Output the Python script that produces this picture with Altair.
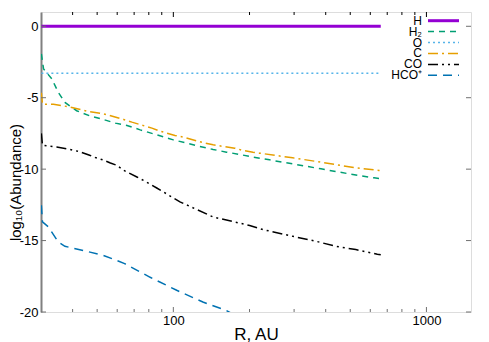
import altair as alt
import pandas as pd

names = ["H", "H2", "O", "C", "CO", "HCO+"]
labels = ["H", "H₂", "O", "C", "CO", "HCO⁺"]
colors = ["#9400d3", "#009e73", "#56b4e9", "#e69f00", "#000000", "#0072b2"]
dashes = [[1, 0], [6, 5], [2, 3], [10, 4, 2, 4], [10, 4, 2, 4, 2, 4], [9, 6]]

H_R = [30.1, 660]
H_v = [0.0, 0.0]

O_R = [30.1, 660]
O_v = [-3.28, -3.28]

H2_R = [30.1, 30.7, 33.1, 35.1, 37.3, 41.5, 46.6, 51.5, 59.0, 65.6, 74.0, 83.4, 94.2, 100,
        112.9, 127.3, 143.6, 162.2, 182.9, 206.3, 240.0, 296.2, 383.1, 495.0, 620.8, 660]
H2_v = [-1.93, -2.98, -3.68, -4.62, -5.33, -5.91, -6.26, -6.46, -6.78, -6.94, -7.25, -7.53, -7.81, -7.95,
        -8.18, -8.41, -8.62, -8.81, -8.97, -9.16, -9.35, -9.63, -9.98, -10.33, -10.61, -10.68]

C_R = [30.1, 30.4, 33.6, 39.0, 46.7, 53.1, 63.6, 68.6, 82.3, 88.6, 101.5, 109.5, 133.3, 143.6,
       174.8, 188.5, 206.3, 219.2, 296.2, 383.1, 445.3, 526.0, 649.5, 660]
C_v = [-4.65, -5.45, -5.45, -5.65, -5.98, -6.13, -6.52, -6.71, -7.13, -7.34, -7.64, -7.76, -8.18, -8.30,
       -8.53, -8.69, -8.81, -8.88, -9.21, -9.51, -9.70, -9.91, -10.09, -10.10]

CO_R = [30.1, 30.4, 34.6, 39.0, 42.7, 46.7, 49.2, 52.8, 56.4, 59.6, 63.6, 71.8, 77.4, 86.0,
        106.2, 143.6, 200.2, 225.9, 296.2, 366.2, 438.8, 526.0, 639.6, 660]
CO_v = [-7.5, -8.33, -8.45, -8.62, -8.78, -9.03, -9.19, -9.36, -9.57, -9.72, -10.08, -10.55, -10.85, -11.32,
        -12.29, -13.35, -13.94, -14.23, -14.70, -15.05, -15.40, -15.63, -15.96, -16.0]

HCO_R = [30.1, 30.4, 32.1, 35.1, 37.3, 45.4, 52.8, 59.5, 64.2, 81.0, 103.1, 130.8, 162.2, 200.0]
HCO_v = [-12.53, -13.69, -14.05, -15.1, -15.4, -15.75, -16.03, -16.38, -16.61, -17.57, -18.48, -19.3, -19.9, -20.8]

y_ticks = [-20, -15, -10, -5, 0]
x_major = [100, 1000]
x_minor = [40, 50, 60, 70, 80, 90, 200, 300, 400, 500, 600, 700, 800, 900]

series = {"H": (H_R, H_v), "H2": (H2_R, H2_v), "O": (O_R, O_v),
          "C": (C_R, C_v), "CO": (CO_R, CO_v), "HCO+": (HCO_R, HCO_v)}
rows = []
for n in names:
    rr, vv = series[n]
    for i, (r, v) in enumerate(zip(rr, vv)):
        rows.append({"name": n, "R": r, "v": v, "i": i})
df = pd.DataFrame(rows)

FONT = "Liberation Sans"
xscale = alt.Scale(type="log", domain=[30, 1500], nice=False)
yscale = alt.Scale(domain=[-20, 1], nice=False)

color_enc = alt.Color("name:N", scale=alt.Scale(domain=names, range=colors), legend=None)
dash_enc = alt.StrokeDash("name:N", scale=alt.Scale(domain=names, range=dashes), legend=None)

thick = alt.datum.name == "H"

lines_thin = alt.Chart(df).transform_filter(alt.datum.name != "H").mark_line(clip=True, strokeWidth=1.5).encode(
    x=alt.X("R:Q", scale=xscale, axis=alt.Axis(
        values=x_major, ticks=False, domain=False, grid=False, labelFontSize=13,
        labelPadding=2, labelFlush=False, labelColor="#000000", labelFont=FONT,
        labelExpr="datum.value + ''", title="R, AU", titleFont=FONT, titleFontSize=17,
        titleFontWeight="normal", titleColor="#000000", titleBaseline="alphabetic", titleY=27)),
    y=alt.Y("v:Q", scale=yscale, axis=alt.Axis(
        values=y_ticks, ticks=False, domain=True, domainColor="#808080", domainWidth=2,
        grid=False, labelFontSize=13, labelPadding=3, labelColor="#000000", labelFont=FONT,
        labelExpr="datum.value + ''", title="log₁₀(Abundance)", titleFont=FONT,
        titleFontSize=15, titleFontWeight="normal", titleColor="#000000",
        titleBaseline="alphabetic", titleX=-20.5, titleY=170)),
    color=color_enc, strokeDash=dash_enc,
    order="i:Q",
)
lines_h = alt.Chart(df).transform_filter(thick).mark_line(clip=True, strokeWidth=3).encode(
    x=alt.X("R:Q", scale=xscale), y=alt.Y("v:Q", scale=yscale),
    color=color_enc, order="i:Q")

ydf = pd.DataFrame({"v": y_ticks})
xmaj = pd.DataFrame({"R": x_major})
xmin = pd.DataFrame({"R": x_minor})
TC = "#707070"
ytick_l = alt.Chart(ydf).mark_rule(color=TC).encode(y=alt.Y("v:Q", scale=yscale), x=alt.value(0), x2=alt.value(5))
ytick_r = alt.Chart(ydf).mark_rule(color=TC).encode(y=alt.Y("v:Q", scale=yscale), x=alt.value(430), x2=alt.value(425))
xmaj_b = alt.Chart(xmaj).mark_rule(color=TC).encode(x=alt.X("R:Q", scale=xscale), y=alt.value(300), y2=alt.value(295))
xmin_b = alt.Chart(xmin).mark_rule(color=TC).encode(x=alt.X("R:Q", scale=xscale), y=alt.value(300), y2=alt.value(297))
xmaj_t = alt.Chart(xmaj).mark_rule(color="#000000").encode(x=alt.X("R:Q", scale=xscale), y=alt.value(0), y2=alt.value(5))
xmin_t = alt.Chart(xmin).mark_rule(color="#000000").encode(x=alt.X("R:Q", scale=xscale), y=alt.value(0), y2=alt.value(3))

main = alt.layer(lines_thin, lines_h, ytick_l, ytick_r, xmaj_b, xmin_b, xmaj_t, xmin_t)

leg_df = pd.DataFrame({"name": names, "label": labels, "row": list(range(len(names)))})
leg_y = alt.Y("row:Q", scale=alt.Scale(domain=[0, 5], range=[8.7, 63.3]), axis=None)
leg_rules_thin = alt.Chart(leg_df).transform_filter(alt.datum.name != "H").mark_rule(strokeWidth=1.5).encode(
    x=alt.value(387), x2=alt.value(418), y=leg_y,
    color=color_enc, strokeDash=dash_enc)
leg_rules_h = alt.Chart(leg_df).transform_filter(thick).mark_rule(strokeWidth=3).encode(
    x=alt.value(387), x2=alt.value(418), y=leg_y, color=color_enc)
leg_text = alt.Chart(leg_df).mark_text(align="right", baseline="middle", fontSize=12,
                                       font=FONT, color="#000000").encode(
    x=alt.value(381), y=leg_y, text="label:N")
legend = alt.layer(leg_rules_thin, leg_rules_h, leg_text)

chart = alt.layer(main, legend).resolve_scale(y="independent").properties(
    width=430, height=300,
    autosize=alt.AutoSizeParams(type="none"),
    padding={"left": 33, "top": 4, "right": 10, "bottom": 30},
).configure_view(stroke="#000000", strokeWidth=1.2).configure(background="#ffffff")

chart.save("out.html", embed_options={"renderer": "svg", "actions": False})
